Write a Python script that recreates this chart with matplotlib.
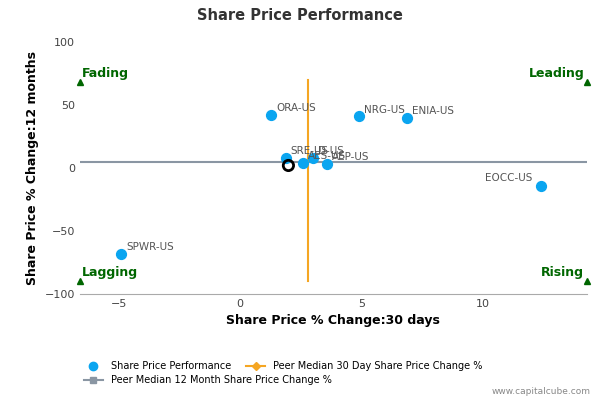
import matplotlib.pyplot as plt
from matplotlib.lines import Line2D

names = ["ORA-US", "NRG-US", "ENIA-US", "EOCC-US", "SPWR-US", "SRE-US", "AES-US", "D-US", "AEP-US"]
x30 = [1.3, 4.9, 6.9, 12.4, -4.9, 1.9, 2.6, 3.0, 3.6]
y12 = [42, 41, 40, -14, -68, 8, 4, 8, 3]
company = (2.0, 2)
median30 = 2.8
median12 = 5

fig = plt.figure(figsize=(6, 4), dpi=100)
ax = fig.add_axes([0.133, 0.265, 0.845, 0.63])
xmin, xmax = -6.6, 14.3
ax.set_xlim(xmin, xmax)
ax.set_ylim(-100, 100)

ax.plot([xmin, xmax], [median12, median12], color="#8a96a3", lw=1.5, zorder=1)
ax.plot([median30, median30], [-90, 70], color="#f5a623", lw=1.5, zorder=1)
ax.scatter(x30, y12, s=50, color="#0aa5f0", zorder=3)
for n, x, y in zip(names, x30, y12):
    if n == "EOCC-US":
        ax.text(x - 2.3, y + 4, n, fontsize=7.5, color="#555555", zorder=4)
    else:
        ax.text(x + 0.2, y + 3, n, fontsize=7.5, color="#555555", zorder=4)
ax.scatter([company[0]], [company[1]], s=55, facecolor="none", edgecolor="black", lw=2, zorder=4)

green = "#006600"
for (qx, qy, lab, ha) in [(xmin, 68, "Fading", "left"), (xmax, 68, "Leading", "right"),
                          (xmin, -90, "Lagging", "left"), (xmax, -90, "Rising", "right")]:
    ax.plot(qx, qy, marker="^", color=green, ms=5, clip_on=False, zorder=5)
    dx = 0.1 if ha == "left" else -0.1
    ax.text(qx + dx, qy + 7, lab, color=green, fontsize=9, fontweight="bold", ha=ha, va="center")

for s in ["top", "right", "left"]:
    ax.spines[s].set_visible(False)
ax.spines["bottom"].set_color("#aaaaaa")
ax.set_xticks([-5, 0, 5, 10])
ax.set_yticks([-100, -50, 0, 50, 100])
ax.tick_params(labelsize=8, colors="#444444", length=0)
ax.set_xlabel("Share Price % Change:30 days", fontsize=9, fontweight="bold")
ax.set_ylabel("Share Price % Change:12 months", fontsize=9, fontweight="bold")
fig.text(0.5, 0.95, "Share Price Performance", ha="center", fontsize=10.5, fontweight="bold", color="#333333")

handles = [
    Line2D([], [], marker="o", ls="none", color="#0aa5f0", ms=6),
    Line2D([], [], marker="D", color="#f5a623", ms=4),
    Line2D([], [], marker="s", color="#8a96a3", ms=5),
]
labels = ["Share Price Performance", "Peer Median 30 Day Share Price Change %",
          "Peer Median 12 Month Share Price Change %"]
fig.legend(handles[:2], labels[:2], loc="lower left", bbox_to_anchor=(0.125, 0.05), ncol=2,
           frameon=False, fontsize=7, handlelength=2, columnspacing=1.5)
fig.legend(handles[2:], labels[2:], loc="lower left", bbox_to_anchor=(0.125, 0.015),
           frameon=False, fontsize=7, handlelength=2)
fig.text(0.985, 0.015, "www.capitalcube.com", ha="right", fontsize=6.5, color="#888888")
fig.savefig("out.png")
